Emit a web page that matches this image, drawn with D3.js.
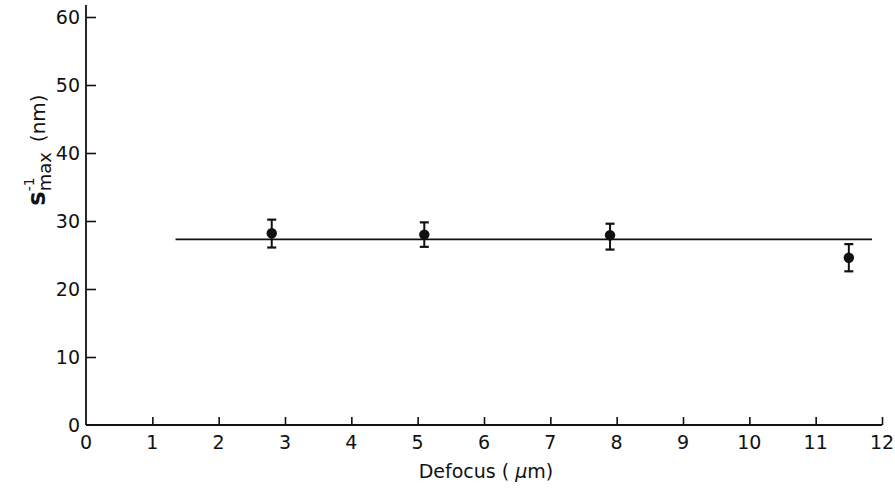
<!DOCTYPE html>
<html><head><meta charset="utf-8">
<script src="https://cdn.jsdelivr.net/npm/d3@7"></script>
<style>body{margin:0;background:#fff}svg{display:block}text{font-family:"DejaVu Sans",sans-serif;fill:#111}</style>
</head><body>
<svg id="c" width="895" height="488"></svg>
<script>
const defocus = [2.8, 5.1, 7.9, 11.5];
const sInv = [28.2, 28.0, 27.9, 24.6];
const errLo = [26.1, 26.2, 25.8, 22.6];
const errHi = [30.2, 29.8, 29.6, 26.6];
const fitX = [1.35, 11.85];
const fitY = [27.3, 27.3];
const xTicks = [0,1,2,3,4,5,6,7,8,9,10,11,12];
const yTicks = [0,10,20,30,40,50,60];

const svg = d3.select("#c");
const x = d3.scaleLinear().domain([0,12]).range([86,882]);
const y = d3.scaleLinear().domain([0,60]).range([425,17]);

const xa = svg.append("g").attr("transform","translate(0,425)")
  .call(d3.axisTop(x).tickValues(xTicks.slice(1)).tickSize(8).tickFormat(""));
const ya = svg.append("g").attr("transform","translate(86,0)")
  .call(d3.axisRight(y).tickValues(yTicks.slice(1)).tickSize(10).tickFormat(""));
[xa,ya].forEach(g=>{g.selectAll("path").remove();g.selectAll("line").attr("stroke","#111").attr("stroke-width",1.6);});
svg.append("line").attr("x1",x(0)).attr("x2",x(12)).attr("y1",y(0)).attr("y2",y(0)).attr("stroke","#111").attr("stroke-width",1.8);
svg.append("line").attr("x1",x(0)).attr("x2",x(0)).attr("y1",y(0)).attr("y2",5).attr("stroke","#111").attr("stroke-width",1.8);

svg.append("g").selectAll("text").data(xTicks).join("text")
  .attr("x",d=>x(d)).attr("y",449).attr("text-anchor","middle").attr("font-size",19).text(d=>d);
svg.append("g").selectAll("text").data(yTicks).join("text")
  .attr("x",80).attr("y",d=>y(d)+7).attr("text-anchor","end").attr("font-size",19).text(d=>d);

svg.append("line").attr("x1",x(fitX[0])).attr("x2",x(fitX[1])).attr("y1",y(fitY[0])).attr("y2",y(fitY[1]))
  .attr("stroke","#111").attr("stroke-width",1.8);

const g = svg.append("g");
defocus.forEach((d,i)=>{
  g.append("line").attr("x1",x(d)).attr("x2",x(d)).attr("y1",y(errLo[i])).attr("y2",y(errHi[i])).attr("stroke","#111").attr("stroke-width",2);
  [errLo[i],errHi[i]].forEach(v=>g.append("line").attr("x1",x(d)-4.5).attr("x2",x(d)+4.5).attr("y1",y(v)).attr("y2",y(v)).attr("stroke","#111").attr("stroke-width",2.2));
  g.append("circle").attr("cx",x(d)).attr("cy",y(sInv[i])).attr("r",5.2).attr("fill","#111");
});

svg.append("text").attr("x",486).attr("y",478).attr("text-anchor","middle").attr("font-size",19)
  .html('Defocus ( <tspan font-style="italic">μ</tspan>m)');
const yl = svg.append("text").attr("transform","translate(45,150) rotate(-90)").attr("text-anchor","middle").attr("font-size",20);
yl.append("tspan").attr("font-weight","bold").attr("font-size",24).text("s");
yl.append("tspan").attr("font-size",14).attr("dy",-11).text("-1");
yl.append("tspan").attr("font-size",18).attr("dy",17).attr("dx",-14).text("max");
yl.append("tspan").attr("dy",-6).attr("dx",10).text("(nm)");
</script>
</body></html>
